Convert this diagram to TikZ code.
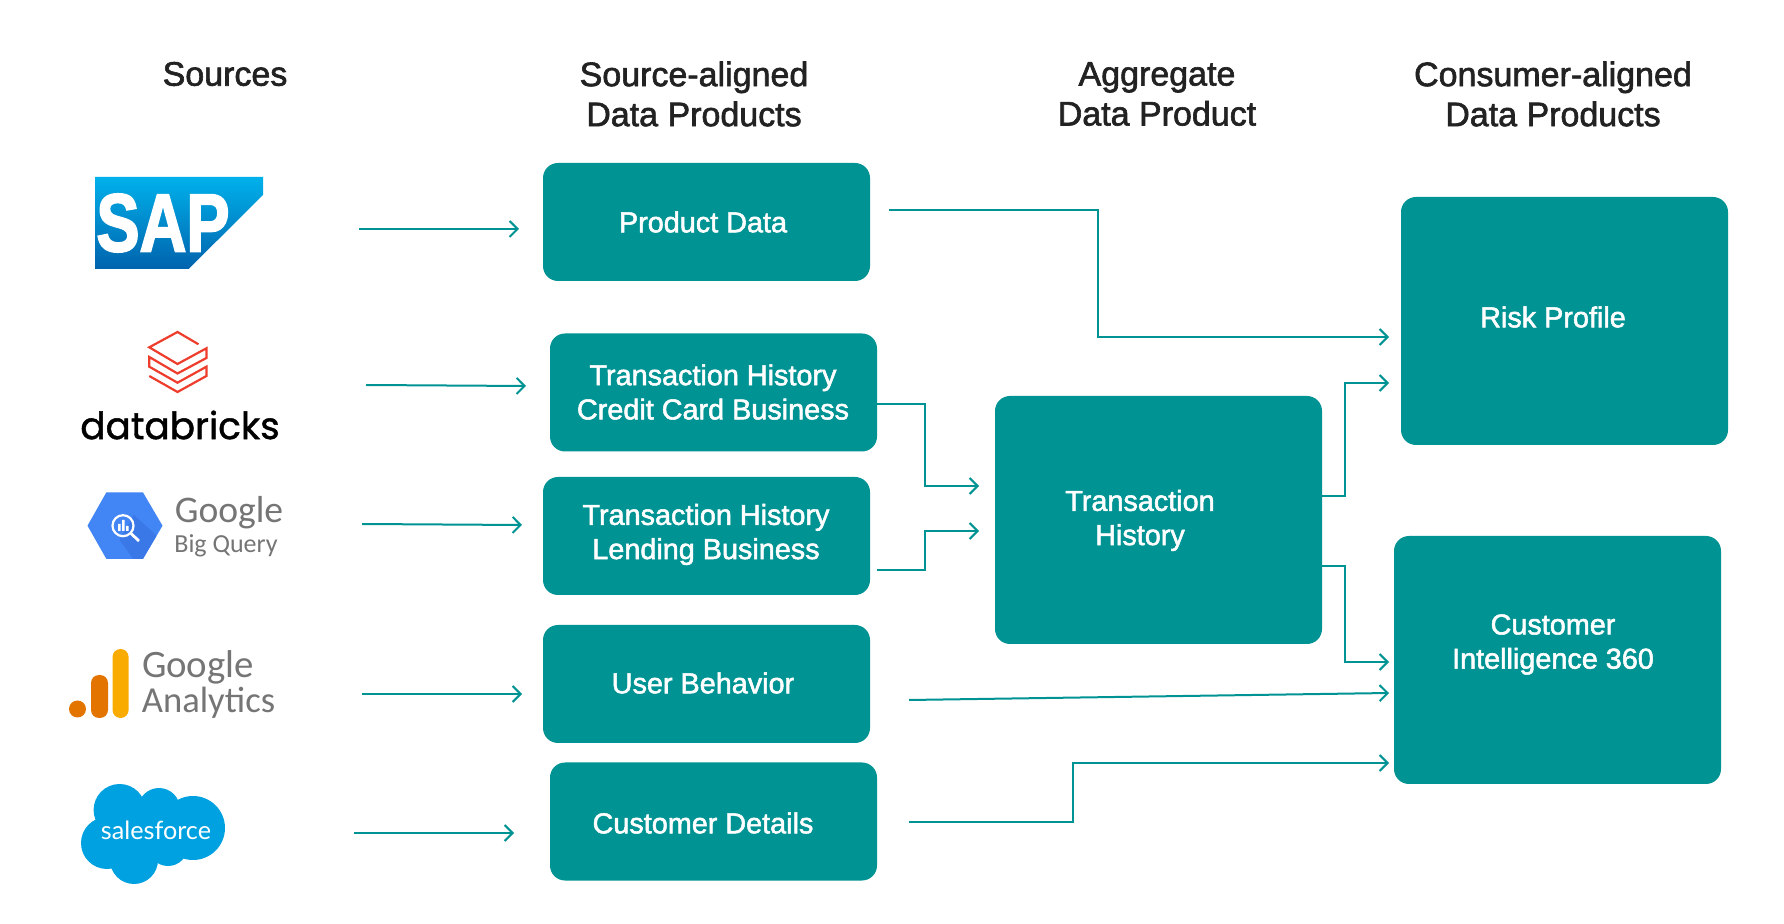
\documentclass[tikz,border=0pt]{standalone}
\usepackage{fontspec}
\usetikzlibrary{arrows.meta,calc}
\setmainfont{Liberation Sans}[FakeBold=1.8]
\newfontfamily\plainsans{Carlito}
\newfontfamily\boldsans{Liberation Sans Bold}[FakeBold=2.5]
\newfontfamily\lato{Lato}
\newfontfamily\pop{Poppins}[FakeBold=1.2]
\definecolor{teal1}{HTML}{009393}
\definecolor{ink}{HTML}{222222}
\definecolor{gg}{HTML}{757575}
\definecolor{sapt}{HTML}{00B1EB}
\definecolor{sapb}{HTML}{0063AD}
\definecolor{dbred}{HTML}{EE3D2C}
\definecolor{gblue}{HTML}{4285F4}
\definecolor{gdark}{HTML}{3B78E7}
\definecolor{gaor}{HTML}{E37400}
\definecolor{gaye}{HTML}{F9AB00}
\definecolor{sfb}{HTML}{00A1E0}
\tikzset{
  box/.style={fill=teal1,rounded corners=7.5pt,minimum height=59pt,inner sep=0pt},
  wide/.style={box,minimum width=163.5pt},
  tall/.style={box,minimum width=163.5pt,minimum height=124pt},
  boxtext/.style={text=white,align=center,inner sep=0pt,font=\fontsize{14.4}{17.1}\selectfont},
  head/.style={text=ink,align=center,font=\fontsize{17}{20}\selectfont,inner sep=0pt},
  conn/.style={draw=teal1,line width=1pt,-{Straight Barb[length=4pt,width=8pt,line width=1pt]}},
}
\begin{document}
\begin{tikzpicture}[x=0.5pt,y=-0.5pt]
\useasboundingbox (0,0) rectangle (1784,924);
\fill[white] (0,0) rectangle (1784,924);
% headers
\node[head] (h1) at (225,74) {Sources};
\node[head] (h2) at (694,94) {Source-aligned\\Data Products};
\node[head] (h3) at (1157,94) {Aggregate\\Data Product};
\node[head] (h4) at (1553,94) {Consumer-aligned\\Data Products};
% boxes
\node[wide] (pd) at (706.5,222) {};
\node[boxtext] (pdt) at (703,222) {Product Data};
\node[wide] (cc) at (713.5,392.5) {};
\node[boxtext] (cct) at (713,392) {Transaction History\\Credit Card Business};
\node[wide] (lb) at (706.5,536) {};
\node[boxtext] (lbt) at (706,534.5) {Transaction History\\Lending Business};
\node[wide] (ub) at (706.5,684) {};
\node[boxtext] (ubt) at (703,683) {User Behavior};
\node[wide] (cd) at (713.5,821.5) {};
\node[boxtext] (cdt) at (703,823) {Customer Details};
\node[tall] (th) at (1158.5,520) {};
\node[boxtext] (tht) at (1140,520.5) {Transaction\\History};
\node[tall] (rp) at (1564.5,321) {};
\node[boxtext] (rpt) at (1553,317) {Risk Profile};
\node[tall] (ci) at (1557.5,660) {};
\node[boxtext] (cit) at (1553,644.5) {Customer\\Intelligence 360};
% connector ends
\foreach \n/\xa/\ya/\xb/\yb in {s1/359/229/519/229,s2/366/385/526/386,s3/362/524/522/525,s4/362/694/522/694,s5/354/833/514/833}{
  \coordinate (\n a) at (\xa,\ya); \coordinate (\n b) at (\xb,\yb);
  \draw[conn] (\n a) -- (\n b);
}
\coordinate (p1) at (889,210); \coordinate (p2) at (1389,337);
\draw[conn] (p1) -| (1098,337) -- (p2);
\coordinate (c1) at (cc.east |- 0,404); \coordinate (c2) at (979,486);
\draw[conn] (c1) -| (925,486) -- (c2);
\coordinate (l1) at (877,570); \coordinate (l2) at (979,531);
\draw[conn] (l1) -| (925,531) -- (l2);
\coordinate (t1) at (th.east |- 0,496); \coordinate (t2) at (1389,383);
\draw[conn] (t1) -| (1345,383) -- (t2);
\coordinate (t3) at (th.east |- 0,566); \coordinate (t4) at (1389,662);
\draw[conn] (t3) -| (1345,662) -- (t4);
\coordinate (u1) at (909,700); \coordinate (u2) at (1389,693);
\draw[conn] (u1) -- (u2);
\coordinate (d1) at (909,822); \coordinate (d2) at (1389,763);
\draw[conn] (d1) -| (1073,763) -- (d2);
% SAP
\shade[top color=sapt,bottom color=sapb] (95,177) -- (263,177) -- (263,195) -- (188.6,269) -- (95,269) -- cycle;
\node[text=white,inner sep=0pt,transform shape,xscale=0.79,font=\boldsans\fontsize{41}{41}\selectfont] (sap) at (163,223) {SAP};
% databricks
\draw[dbred,line width=1.1pt] (198.5,344.3) -- (177.5,332) -- (149.3,347.3) -- (177.5,364) -- (206.4,348.3) -- (206.4,358) -- (177.5,373.5) -- (149.3,357) -- (149.3,366.7) -- (177.5,382.7) -- (206.4,366.7) -- (206.4,376) -- (177.5,392) -- (149.3,376);
\node[text=black,inner sep=0pt,font=\pop\fontsize{18.7}{18.7}\selectfont] (db) at (180,425) {databricks};
% Big Query
\begin{scope}
\clip (106.4,492.3) -- (142.9,492.3) -- (162.5,525.7) -- (142.9,559) -- (106.4,559) -- (87.5,525.7) -- cycle;
\fill[gblue] (80,485) rectangle (170,565);
\fill[gdark] (134,515) -- (170,548) -- (170,565) -- (137.5,565) -- (119.6,540) -- cycle;
\end{scope}
\draw[white,line width=1.1pt] (123,525.7) circle (10.5);
\draw[white,line width=1.4pt] (131,533.5) -- (139,541);
\fill[white] (118,524) rectangle (120.5,531) (122,520) rectangle (124.5,531) (126,526) rectangle (128.5,531);
\node[text=gg,inner sep=0pt,font=\plainsans\fontsize{18.8}{18.8}\selectfont] (g1) at (229,512.5) {Google};
\node[text=gg,inner sep=0pt,font=\plainsans\fontsize{13}{13}\selectfont] (g2) at (226,546) {Big Query};
% Analytics
\fill[gaor] (77.5,709) circle (8.5);
\fill[gaor,rounded corners=4pt] (91,675) rectangle (108,718);
\fill[gaye,rounded corners=4pt] (112.5,649) rectangle (128.6,718);
\node[text=gg,inner sep=0pt,font=\plainsans\fontsize{19.4}{19.4}\selectfont] (g3) at (198,667.5) {Google};
\node[text=gg,inner sep=0pt,font=\plainsans\fontsize{18.3}{18.3}\selectfont] (g4) at (208.5,703) {Analytics};
% Salesforce
\fill[sfb] (119.6,810) circle (26) (159,809) circle (21) (193,828) circle (32) (107,843) circle (26) (134,860) circle (24) (168,846) circle (20) (145,830) circle (32);
\node[text=white,inner sep=0pt,font=\lato\fontsize{12.6}{12.6}\selectfont] (sf) at (156,830) {salesforce};
\end{tikzpicture}
\end{document}
